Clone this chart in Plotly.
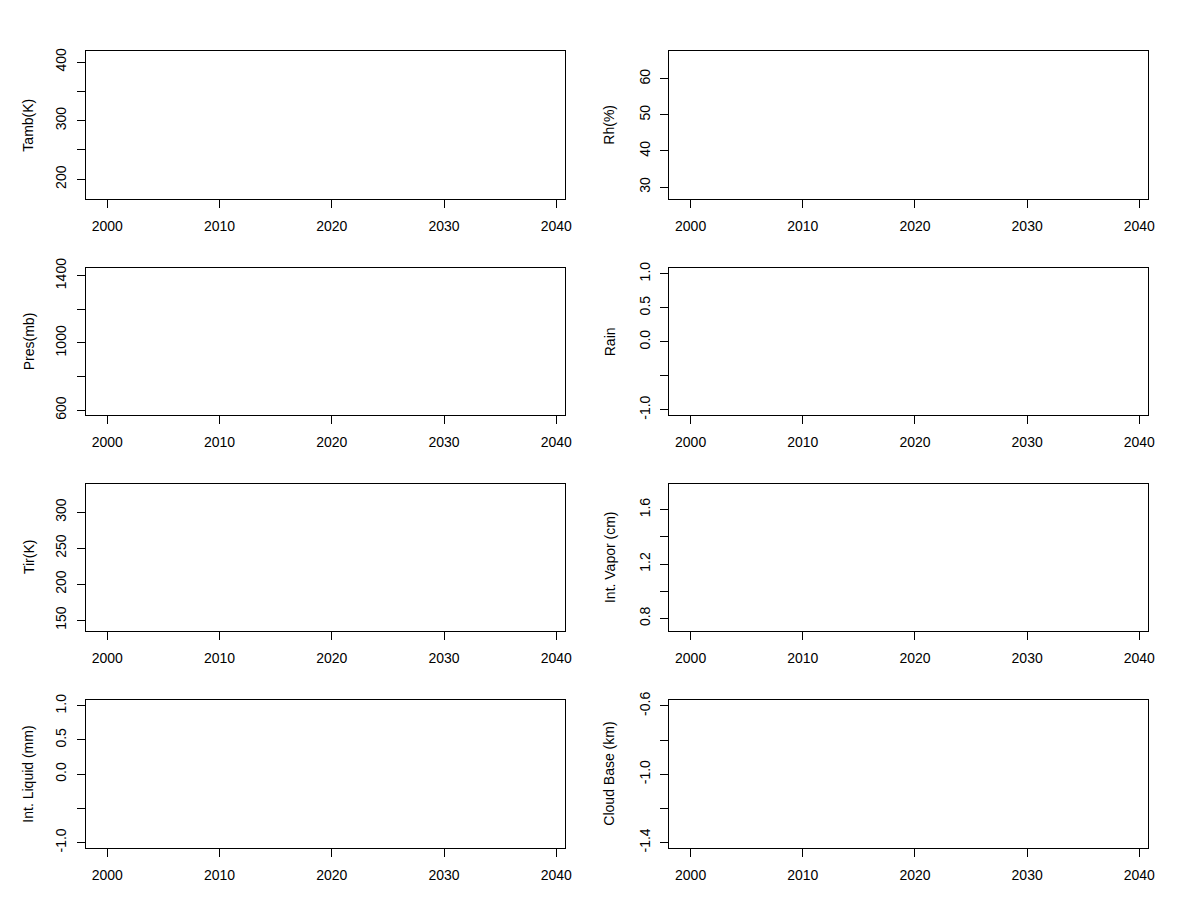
import plotly.graph_objects as go

# ---- data (panels are empty in the reference) ----
x_tick_years = [2000, 2010, 2020, 2030, 2040]
x_range = [1998.1, 2040.8]

panel_titles = ["Tamb(K)", "Rh(%)", "Pres(mb)", "Rain",
                "Tir(K)", "Int. Vapor (cm)", "Int. Liquid (mm)", "Cloud Base (km)"]

y_ranges = [
    [165.9, 418.8],
    [26.6, 67.7],
    [570.0, 1444.0],
    [-1.08, 1.08],
    [135.2, 338.9],
    [0.709, 1.787],
    [-1.08, 1.08],
    [-1.432, -0.567],
]

y_tick_vals = [
    [200, 250, 300, 350, 400],
    [30, 40, 50, 60],
    [600, 800, 1000, 1200, 1400],
    [-1.0, -0.5, 0.0, 0.5, 1.0],
    [150, 200, 250, 300],
    [0.8, 1.0, 1.2, 1.4, 1.6],
    [-1.0, -0.5, 0.0, 0.5, 1.0],
    [-1.4, -1.2, -1.0, -0.8, -0.6],
]

y_tick_text = [
    ["200", "", "300", "", "400"],
    ["30", "40", "50", "60"],
    ["600", "", "1000", "", "1400"],
    ["-1.0", "", "0.0", "0.5", "1.0"],
    ["150", "200", "250", "300"],
    ["0.8", "", "1.2", "", "1.6"],
    ["-1.0", "", "0.0", "0.5", "1.0"],
    ["-1.4", "", "-1.0", "", "-0.6"],
]

# ---- layout geometry (pixels in the 1200x900 page) ----
W, H = 1200, 900
OFF = 8  # page body margin offset
col_px = [(86.0, 565.3), (669.3, 1148.3)]
row_px = [(51.0, 199.3), (268.3, 415.2), (484.3, 630.8), (700.3, 848.0)]
title_x_px = [28.5, 609.5]

FONT = "Liberation Sans, Arial, sans-serif"

fig = go.Figure()
layout = dict(
    width=W, height=H,
    margin=dict(l=0, r=0, t=0, b=0, autoexpand=False),
    paper_bgcolor="white", plot_bgcolor="white",
    showlegend=False,
    font=dict(family=FONT, size=14, color="black"),
    annotations=[],
)

for i in range(8):
    r, c = divmod(i, 2)
    n = i + 1
    xa = "x" if n == 1 else f"x{n}"
    ya = "y" if n == 1 else f"y{n}"
    xkey = "xaxis" if n == 1 else f"xaxis{n}"
    ykey = "yaxis" if n == 1 else f"yaxis{n}"
    x0, x1 = (v - OFF for v in col_px[c])
    ytop, ybot = (v - OFF for v in row_px[r])
    fig.add_trace(go.Scatter(x=[], y=[], xaxis=xa, yaxis=ya, mode="lines"))
    layout[xkey] = dict(
        domain=[x0 / W, x1 / W], anchor=ya, range=x_range,
        tickmode="array", tickvals=x_tick_years,
        ticktext=[str(v) for v in x_tick_years],
        ticks="outside", ticklen=8, tickwidth=1, tickcolor="black",
        showline=True, linecolor="black", linewidth=1, mirror=True,
        showgrid=False, zeroline=False, automargin=False,
        tickfont=dict(family=FONT, size=14, color="black"),
        ticklabelstandoff=6,
    )
    layout[ykey] = dict(
        domain=[1 - ybot / H, 1 - ytop / H], anchor=xa, range=y_ranges[i],
        tickmode="array", tickvals=y_tick_vals[i], ticktext=y_tick_text[i],
        tickangle=-90,
        ticks="outside", ticklen=8, tickwidth=1, tickcolor="black",
        showline=True, linecolor="black", linewidth=1, mirror=True,
        showgrid=False, zeroline=False, automargin=False,
        tickfont=dict(family=FONT, size=14, color="black"),
        ticklabelstandoff=5,
    )
    layout["annotations"].append(dict(
        text=panel_titles[i], xref="paper", yref="paper",
        x=(title_x_px[c] - OFF) / W, y=1 - (ytop + ybot) / 2 / H,
        xanchor="center", yanchor="middle", textangle=-90,
        showarrow=False, font=dict(family=FONT, size=14, color="black"),
    ))

fig.update_layout(**layout)
fig.write_html("out.html")
